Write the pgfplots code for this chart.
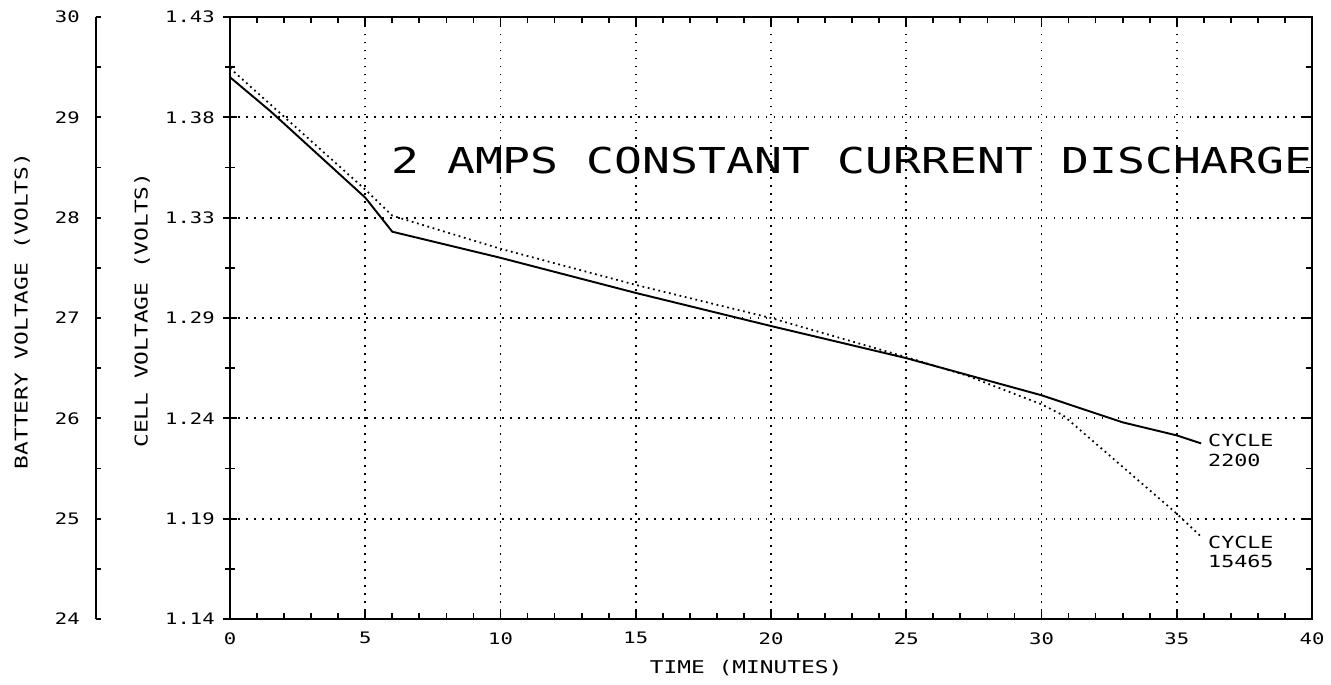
\documentclass[border=0pt]{standalone}
\usepackage{fontspec}
\setmainfont[FakeStretch=1.3]{DejaVu Sans Mono}
\usepackage{pgfplots}
\pgfplotsset{compat=1.18}

% plotter-like lettering; 1 px of the reference = 0.02cm here
\newcommand{\tickfont}{\fontsize{9}{10}\selectfont}
\newcommand{\labfont}{\fontsize{10}{11}\selectfont}
\newcommand{\cycfont}{\fontsize{9.5}{10}\selectfont}
\newcommand{\titlefont}{\fontsize{20.3}{22}\selectfont}

\pgfplotsset{
  plotter/.style={
    scale only axis, width=21.64cm, height=12.04cm,
    at={(0,0)}, anchor=south west,
    xmin=0, xmax=40, ymin=24, ymax=30,
    axis line style={line width=1.6pt},
    every tick/.style={black, line width=1pt},
    /pgf/number format/assume math mode=true,
  },
}

\begin{document}
\begin{tikzpicture}
% battery voltage scale (21 cells: cell = battery/21)
\begin{axis}[
  at={(-2.68cm,0)}, anchor=south west,
  scale only axis, width=1cm, height=12.04cm,
  axis y line*=left, axis x line=none,
  xmin=0, xmax=1, ymin=24, ymax=30,
  ytick={24,...,30}, minor y tick num=1,
  tick align=inside,
  major tick length=0.1cm, minor tick length=0.1cm,
  axis line style={line width=1.2pt},
  every tick/.style={black, line width=1pt},
  /pgf/number format/assume math mode=true,
  yticklabel style={font=\tickfont, inner sep=0pt, anchor=east, xshift=-0.32cm},
]
\end{axis}

% left cell-voltage scale, ticks crossing the frame
\begin{axis}[
  plotter,
  xtick=\empty,
  ytick={24,...,30}, minor y tick num=1,
  yticklabels={1.14,1.19,1.24,1.29,1.33,1.38,1.43},
  ytick pos=left,
  tick align=center,
  major tick length=0.28cm, minor tick length=0.2cm,
  yticklabel style={font=\tickfont, inner sep=0pt, anchor=east, xshift=-0.16cm},
  ylabel={CELL VOLTAGE (VOLTS)},
  ylabel style={font=\labfont, at={(axis description cs:-0.0813,0.513)}, anchor=center},
]
\end{axis}

% data axis
\begin{axis}[
  plotter,
  xtick={0,5,...,40}, minor x tick num=4,
  ytick={24,...,30}, minor y tick num=1,
  yticklabels={},
  ytick pos=right, xtick pos=both,
  tick align=inside,
  major tick length=0.2cm, minor tick length=0.12cm,
  xmajorgrids, ymajorgrids,
  grid style={black, line width=1pt, dash pattern=on 1pt off 3.55pt},
  xticklabel style={font=\tickfont, inner sep=0pt, anchor=north, yshift=-0.26cm},
  xlabel={TIME (MINUTES)},
  xlabel style={font=\labfont, at={(axis description cs:0.477,0)}, anchor=center, yshift=-0.98cm},
  clip=false,
]
% cycle 2200 (solid)
\addplot[black, line width=1.1pt] coordinates {
  (0,29.40) (1.5,29.06) (5,28.20) (6,27.86) (10,27.60) (15,27.25)
  (20,26.92) (25,26.60) (30,26.23) (33,25.96) (35,25.83) (35.9,25.75)
};
% cycle 15465 (dotted)
\addplot[black, line width=1pt, dash pattern=on 1pt off 2.1pt] coordinates {
  (0,29.49) (5,28.28) (6,28.02) (10,27.69) (15,27.33) (20,27.00)
  (25,26.61) (27.2,26.43) (30,26.14) (30.8,26.03) (35,25.05) (35.9,24.82)
};
\node[anchor=west, inner sep=0pt, font=\titlefont] at (axis cs:5.95,28.57) {2 AMPS CONSTANT CURRENT DISCHARGE};
\node[anchor=west, inner sep=0pt, font=\cycfont] at (axis cs:36.15,25.78) {CYCLE};
\node[anchor=west, inner sep=0pt, font=\cycfont] at (axis cs:36.15,25.58) {2200};
\node[anchor=west, inner sep=0pt, font=\cycfont] at (axis cs:36.15,24.76) {CYCLE};
\node[anchor=west, inner sep=0pt, font=\cycfont] at (axis cs:36.15,24.57) {15465};
\end{axis}

\node[rotate=90, font=\labfont] at (-4.16cm,6.16cm) {BATTERY VOLTAGE (VOLTS)};

\pgfresetboundingbox
\useasboundingbox (-4.60cm,-1.30cm) rectangle (22.02cm,12.38cm);
\end{tikzpicture}
\end{document}
